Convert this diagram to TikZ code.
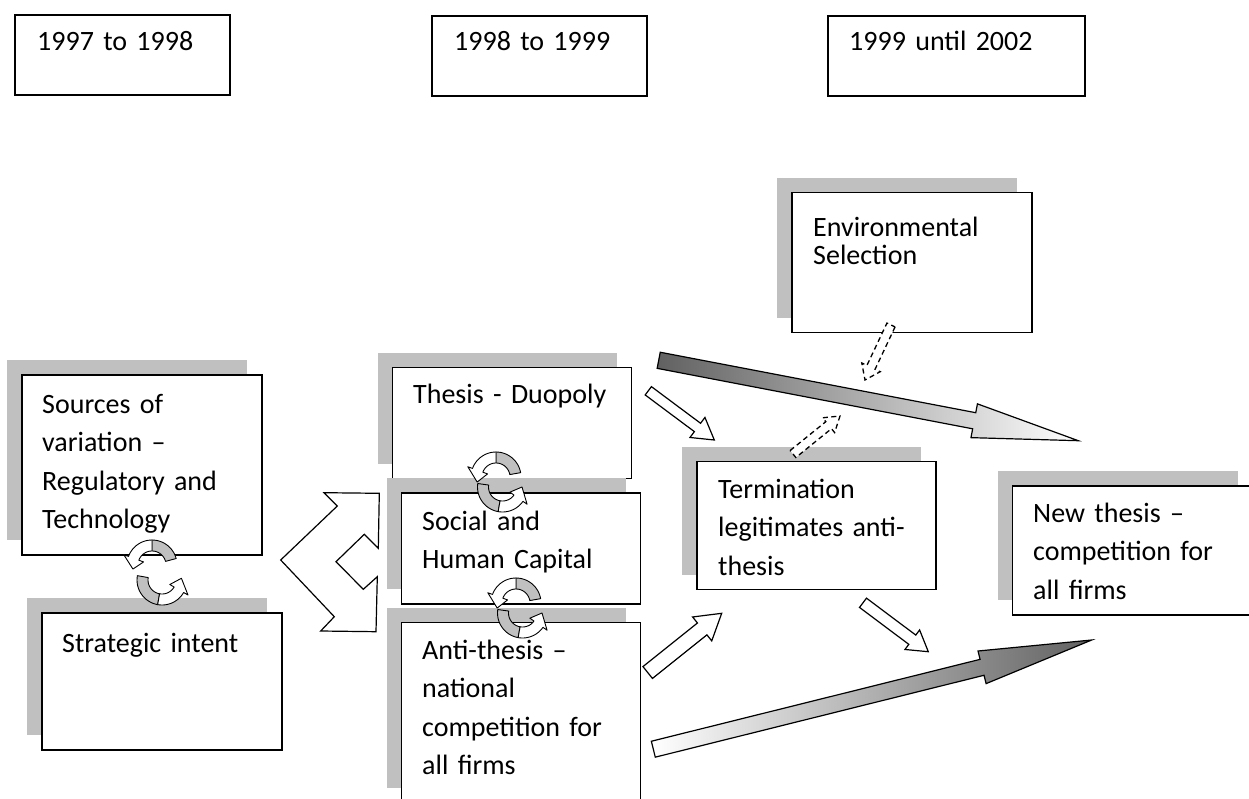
\documentclass[tikz,border=0pt]{standalone}
\usepackage{fontspec}
\setmainfont{Carlito}
\usetikzlibrary{calc,shadows}
\definecolor{shadowgray}{RGB}{192,192,192}
\newcommand{\bodyfont}{\fontsize{28}{38.5}\selectfont}
\newcommand{\envfont}{\fontsize{28}{28}\selectfont}
% circular (turning) arrow: center, start angle, colour split angle, end angle, tip angle
\newcommand{\turnarrow}[5]{%
  \begin{scope}[shift={(#1)}]
  \filldraw[fill=shadowgray, draw=black, line width=0.9pt, line join=round]
    plot[domain=#2:#3, samples=16] (\x:25pt)
    -- plot[domain=#3:#2, samples=16] (\x:14pt) -- cycle;
  \filldraw[fill=white, draw=black, line width=0.9pt, line join=round]
    plot[domain=#3:#4, samples=16] (\x:25pt)
    -- (#4:30pt) -- (#5:19.5pt) -- (#4:9pt)
    -- plot[domain=#4:#3, samples=16] (\x:14pt) -- cycle;
  \end{scope}
}
% block arrow: tail, tip, shaft half width, head half width, head length, style
\newcommand{\blockarrow}[6]{%
  \path ($(#2)!#5!(#1)$) coordinate (bahead);
  \path[#6] ($(#1)!#3!90:(#2)$) -- ($(bahead)!#3!-90:(#1)$) -- ($(bahead)!#4!-90:(#1)$)
    -- (#2) -- ($(bahead)!#4!90:(#1)$) -- ($(bahead)!#3!90:(#1)$) -- ($(#1)!#3!-90:(#2)$) -- cycle;
}
\begin{document}
\begin{tikzpicture}[x=1pt,y=-1pt,
  frame/.style={draw=black, line width=1.5pt, fill=white, rectangle, inner sep=0pt, outer sep=0pt, anchor=north west},
  shbox/.style={frame, general shadow={fill=shadowgray, shadow xshift=-15pt, shadow yshift=15pt}},
  txt/.style={anchor=base west, inner sep=0pt, text width=228pt, align=left, font=\bodyfont},
  blockout/.style={draw=black, line width=1.2pt, fill=white, line join=miter},
  dashout/.style={draw=black, line width=1.3pt, fill=white, dash pattern=on 5pt off 3.5pt},
  fadeout/.style={draw=black, line width=1.2pt, left color=black!62, right color=white},
  fadein/.style={draw=black, line width=1.2pt, left color=white, right color=black!62}
]
\useasboundingbox (0,0) rectangle (1249,799);
\clip (0,0) rectangle (1249,799);

% period boxes
\node[frame, minimum width=215pt, minimum height=80pt] (p1) at (15,15) {};
\node[frame, minimum width=215pt, minimum height=80pt] (p2) at (432,16) {};
\node[frame, minimum width=257pt, minimum height=80pt] (p3) at (828,16) {};
\node[txt] (p1t) at (37,51) {1997 to 1998};
\node[txt] (p2t) at (454,51) {1998 to 1999};
\node[txt] (p3t) at (849,51) {1999 until 2002};

% shadowed boxes
\node[shbox, minimum width=240pt, minimum height=180pt] (src) at (22,375) {};
\node[shbox, minimum width=240pt, minimum height=137pt] (strat) at (42,613) {};
\node[shbox, minimum width=239pt, minimum height=111pt] (thesis) at (392.7,367.7) {};
\node[shbox, minimum width=239pt, minimum height=111pt] (social) at (401.7,493) {};
\node[shbox, minimum width=239pt, minimum height=180pt] (anti) at (401.7,622.7) {};
\node[shbox, minimum width=239pt, minimum height=128pt] (term) at (697,461.7) {};
\node[shbox, minimum width=240pt, minimum height=140pt] (env) at (792,192.7) {};
\node[shbox, minimum width=240pt, minimum height=129pt] (newth) at (1012.7,486) {};

\node[txt] (srct) at (42,413) {Sources of\\variation –\\Regulatory and\\Technology};
\node[txt] (stratt) at (62,652) {Strategic intent};
\node[txt] (thesist) at (413,403) {Thesis - Duopoly};
\node[txt] (socialt) at (422,530) {Social and\\Human Capital};
\node[txt] (antit) at (422,659) {Anti-thesis –\\national\\competition for\\all firms};
\node[txt] (termt) at (718,498) {Termination\\legitimates anti-\\thesis};
\node[txt, font=\envfont] (envt) at (813,237) {Environmental\\Selection};
\node[txt] (newtht) at (1033,522) {New thesis –\\competition for\\all firms};

% turning arrows between stacked boxes
\coordinate (c1a) at (152,565);
\coordinate (c1b) at (162,580);
\coordinate (c2a) at (496,477);
\coordinate (c2b) at (502.5,487);
\coordinate (c3a) at (516,603);
\coordinate (c3b) at (522.5,613);
\turnarrow{c1a}{15}{90}{160}{192}
\turnarrow{c1b}{170}{260}{330}{365}
\turnarrow{c2a}{10}{90}{160}{195}
\turnarrow{c2b}{172}{260}{325}{360}
\turnarrow{c3a}{10}{90}{160}{195}
\turnarrow{c3b}{172}{260}{325}{360}

% chevron double arrow
\draw[blockout, line join=miter] (280.7,560) -- (337.3,506) -- (324,492.7) -- (379.3,493.3)
  -- (378.3,548.3) -- (364.3,534.3) -- (336,561.7) -- (363.3,589.3) -- (377.3,576.7)
  -- (376,631.7) -- (320.7,631) -- (334.3,616.7) -- cycle;

% gradient arrows
\coordinate (g1s) at (658.7,360.3);
\coordinate (g1e) at (1078.3,440.7);
\coordinate (g2s) at (653.3,749.2);
\coordinate (g2e) at (1091.7,640);
\blockarrow{g1s}{g1e}{8.2pt}{17.2pt}{106pt}{fadeout}
\blockarrow{g2s}{g2e}{8.2pt}{16.8pt}{113pt}{fadein}

% white block arrows
\coordinate (b1s) at (648.3,390.8);
\coordinate (b1e) at (714.3,440);
\coordinate (b2s) at (647.7,672.5);
\coordinate (b2e) at (721.7,613.3);
\coordinate (b3s) at (863,602.8);
\coordinate (b3e) at (928.3,651.7);
\blockarrow{b1s}{b1e}{5.2pt}{12.5pt}{21pt}{blockout}
\blockarrow{b2s}{b2e}{7.6pt}{15.3pt}{25pt}{blockout}
\blockarrow{b3s}{b3e}{5.8pt}{12.2pt}{20pt}{blockout}

% dashed arrows
\coordinate (d1s) at (891,325);
\coordinate (d1e) at (865,380);
\coordinate (d2s) at (793,454);
\coordinate (d2e) at (840,416);
\blockarrow{d1s}{d1e}{4.5pt}{10.2pt}{14pt}{dashout}
\blockarrow{d2s}{d2e}{4.5pt}{9.5pt}{14.6pt}{dashout}
\end{tikzpicture}
\end{document}
